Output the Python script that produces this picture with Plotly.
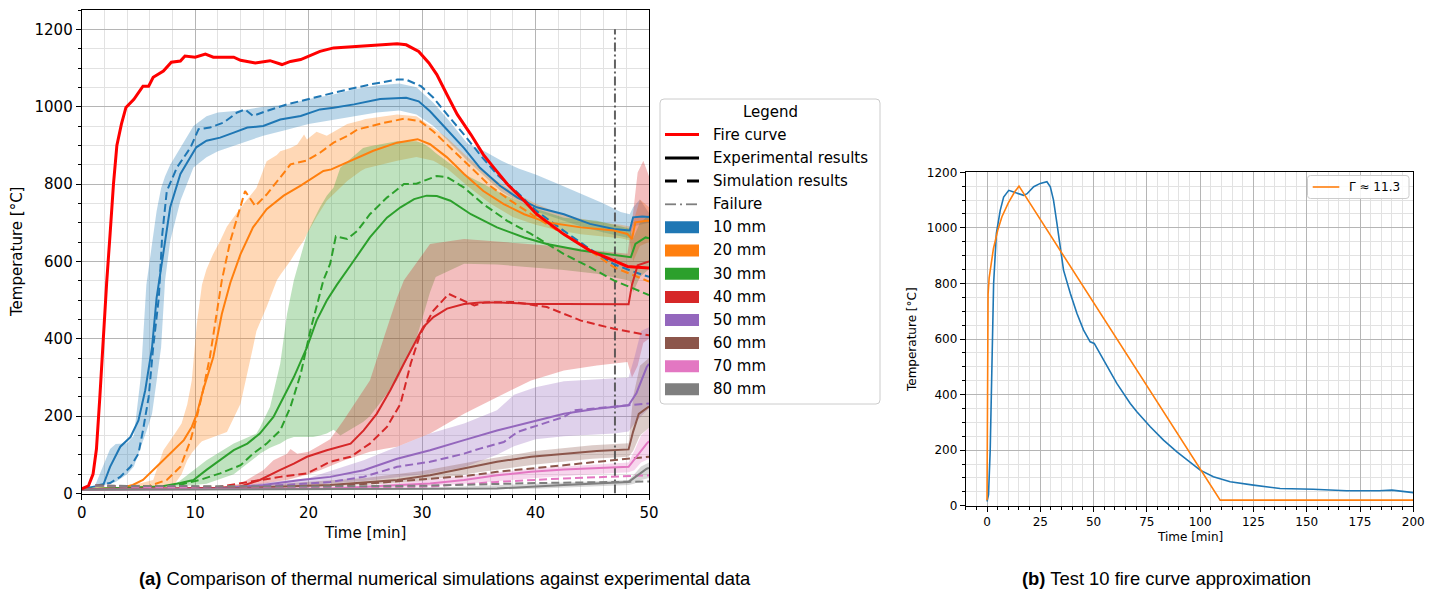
import plotly.graph_objects as go

W, H = 1439, 589

# ---------------- Panel (a): thermal simulations vs experiments ----------------
fire_t = [0, 0.6, 1.0, 1.3, 1.6, 1.8, 2.0, 2.2, 2.5, 2.8, 3.1, 3.5, 3.9, 4.6, 5.4, 5.9, 6.3, 7.2, 7.9,
          8.7, 9.1, 10, 10.9, 11.6, 13.4, 14, 15.3, 16.6, 17.65, 18.4, 19.3, 20, 21, 22.2, 23.4, 24.8,
          26.5, 27.8, 28.6, 29.7, 30.6, 31.3, 32.2, 33.1, 34.3, 35.4, 36.3, 37.5, 39, 40.1, 42.5, 44.8,
          46.9, 48.1, 49.0, 50]
fire_T = [12, 20, 50, 115, 250, 350, 460, 545, 670, 800, 900, 955, 998, 1019, 1053, 1053, 1076, 1092, 1115,
          1118, 1131, 1128, 1136, 1128, 1128, 1120, 1113, 1119, 1109, 1117, 1122, 1131, 1143, 1152, 1154, 1158,
          1160, 1163, 1160, 1143, 1113, 1083, 1031, 980, 928, 876, 843, 800, 757, 722, 670, 628,
          602, 587, 585, 583]

failure_time = 47.0

# 10 mm
exp10_t = [0, 1.2, 1.9, 2.5, 3.4, 4.3, 5.0, 5.6, 6.2, 6.6, 7.2, 7.8, 8.7, 9.6, 10.1, 11, 12.2, 13.4, 14.6, 16,
           17.5, 19.3, 21, 22.2, 24, 26.3, 28.6, 29.7, 30.7, 31.9, 33.7, 35.1, 36.9, 38.4, 40.1, 42.5, 44.8,
           46.9, 48.3, 48.6, 49.4, 50]
exp10_T = [12, 18, 22, 69, 121, 146, 189, 267, 378, 505, 628, 740, 826, 869, 895, 912, 920, 933, 946, 950,
           967, 976, 993, 997, 1006, 1020, 1023, 1014, 988, 950, 893, 842, 795, 765, 740, 722, 697,
           684, 680, 714, 716, 715]
sim10_t = [1.2, 2.5, 3.4, 4.3, 5.0, 5.4, 5.9, 6.3, 6.8, 7.1, 7.5, 8.4, 9.6, 10.3, 11.3, 12.5, 13.7, 14.4, 15.1,
           16.3, 18.1, 19.3, 21, 22.2, 24, 25.5, 27.8, 28.6, 29.9, 31, 32.2, 33.7, 35.1, 36.6, 38.4, 40.1,
           42.5, 44.8, 46.9, 48.4, 50]
sim10_T = [20, 27, 43, 69, 103, 163, 249, 378, 507, 670, 782, 843, 895, 942, 946, 959, 985, 993, 976,
           989, 1006, 1014, 1027, 1036, 1049, 1058, 1070, 1070, 1053, 1023, 980, 928, 876, 825, 778, 730,
           679, 632, 593, 576, 560]
band10_t = [1.2, 2.5, 3.0, 4.0, 4.6, 5.2, 5.7, 6.2, 6.6, 7.0, 7.35, 7.8, 8.7, 9.85, 11, 12, 14, 16, 18, 20, 22,
            24, 26, 28, 29.5, 31, 32.5, 34, 35.5, 37, 38.5, 40, 42, 44, 46, 47.5, 48.3, 48.6, 49.2, 50]
band10_hi = [22, 115, 128, 130, 150, 300, 540, 650, 730, 790, 820, 850, 895, 950, 975, 985, 990, 1000, 1005,
             1020, 1030, 1045, 1055, 1060, 1050, 1010, 960, 905, 885, 860, 840, 825, 800, 775, 750, 728,
             722, 740, 760, 725]
band10_lo = [18, 25, 30, 50, 70, 120, 160, 206, 290, 378, 551, 653, 757, 843, 869, 885, 905, 925, 940,
             955, 965, 975, 985, 990, 980, 950, 905, 860, 820, 780, 755, 730, 710, 690, 675, 665,
             660, 690, 695, 700]

# 20 mm
exp20_t = [0, 3.5, 4.5, 5.4, 6.6, 7.8, 9.0, 9.7, 10.15, 10.7, 11.6, 12.35, 13.1, 14.0, 15.1, 16.3, 17.8, 19.3,
           20.4, 21.3, 22, 23.7, 25.7, 27.8, 29.6, 30.7, 32.2, 33.7, 35.4, 37.2, 39, 41, 44, 46.9, 48.1,
           48.5, 48.8, 49.8, 50]
exp20_T = [11, 15, 22, 35, 69, 103, 138, 172, 206, 267, 353, 464, 545, 619, 688, 735, 770, 796,
           817, 834, 838, 860, 886, 907, 916, 903, 869, 826, 782, 748, 722, 701, 688, 680, 671,
           658, 701, 705, 705]
sim20_t = [1.2, 3.0, 6.0, 7.5, 8.7, 9.6, 10.15, 10.7, 11.3, 11.9, 12.35, 13.1, 14.0, 14.4, 15.3, 16.3, 17.5,
           18.4, 19.85, 21, 22.2, 23.4, 24.3, 26.6, 28.4, 29.85, 31, 32.5, 34.3, 36, 37.8, 40.1, 42.5,
           44.8, 46.9, 48.4, 50]
sim20_T = [20, 18, 20, 35, 69, 138, 198, 267, 353, 464, 551, 653, 739, 782, 743, 773, 817,
           851, 861, 881, 907, 924, 941, 958, 969, 962, 936, 893, 842, 795, 757, 713, 670,
           628, 585, 568, 548]
band20_t = [3.5, 5, 6.3, 7.2, 8.1, 8.8, 9.3, 9.7, 10.15, 10.4, 10.6, 11, 11.6, 12.2, 12.8, 14, 15.1, 15.4,
            16.3, 17.2, 17.5, 18.4, 19, 19.6, 19.85, 20.7, 21.6, 23.4, 24.6, 25, 27.8, 29.5, 31, 32.2,
            34, 36, 38, 40, 42, 44, 46, 47.5, 48.3, 48.6, 49.2, 50]
band20_hi = [16, 25, 35, 112, 150, 181, 230, 292, 440, 500, 540, 580, 620, 653, 690, 739, 780, 790,
             859, 875, 885, 893, 902, 928, 915, 935, 925, 955, 964, 968, 980, 975, 945, 920,
             870, 820, 780, 750, 725, 710, 700, 695, 690, 700, 760, 740]
band20_lo = [14, 16, 17, 18, 20, 50, 86, 105, 120, 129, 135, 140, 146, 152, 159, 232, 378, 420,
             482, 551, 565, 602, 630, 655, 671, 715, 757, 808, 834, 840, 860, 870, 860, 840,
             795, 750, 715, 695, 680, 670, 665, 660, 655, 600, 640, 650]

# 30 mm
exp30_t = [0, 7, 8.7, 9.85, 11, 12.2, 13.4, 14.6, 15.7, 16.9, 17.8, 18.7, 19.85, 20.7, 21.6, 22.5, 23.7, 25.4,
           26.9, 28.1, 29.3, 30.4, 31.3, 32.5, 34.3, 36.6, 39, 41, 44, 46.9, 48.4, 48.8, 49.7, 50]
exp30_T = [11, 18, 27, 35, 61, 86, 112, 129, 155, 198, 249, 301, 378, 447, 499, 540, 590, 662,
           713, 740, 761, 770, 769, 757, 722, 688, 662, 645, 628, 618, 611, 645, 662, 660]
sim30_t = [1.2, 8, 10.4, 12.2, 14, 15.1, 16.3, 17.5, 18.4, 19.3, 20.15, 20.9, 21.3, 21.9, 22.4, 23.4, 24.3,
           25.4, 26.9, 28.4, 29.5, 31.3, 32.2, 33.7, 35.4, 37.5, 39.6, 42.5, 44.8, 46.9, 48.4, 50]
sim30_T = [20, 18, 35, 52, 73, 103, 129, 163, 224, 309, 421, 507, 551, 594, 665, 658, 679,
           722, 765, 800, 801, 821, 818, 791, 748, 705, 671, 619, 585, 551, 533, 513]
band30_t = [8, 11, 13.4, 15.4, 15.7, 16.6, 17.5, 18.1, 18.7, 19.85, 20.4, 21, 21.6, 22.2, 22.8, 24.8, 25.4,
            27.8, 29.5, 30.1, 30.7, 31.2, 33.7, 36.6, 39.6, 42.5, 45.4, 47.5, 48.3, 48.6, 49.2, 50]
band30_hi = [18, 86, 129, 155, 170, 224, 336, 465, 551, 671, 705, 740, 770, 791, 843, 893, 898,
             911, 911, 905, 893, 880, 826, 782, 740, 713, 705, 690, 685, 660, 700, 720]
band30_lo = [16, 25, 50, 95, 103, 118, 129, 140, 146, 146, 146, 150, 155, 165, 150, 185, 200,
             292, 400, 460, 520, 560, 594, 592, 585, 578, 568, 555, 550, 520, 560, 580]

# 40 mm
exp40_t = [0, 12, 14, 15.7, 17.5, 18.7, 19.85, 21.6, 23.7, 24.85, 26, 27.2, 28.4, 29.3, 30.1, 31, 32.2, 33.7,
           35.1, 36.9, 39.6, 42.5, 45.4, 48.2, 48.5, 49, 50]
exp40_T = [11, 15, 18, 35, 61, 77, 95, 112, 129, 163, 206, 267, 336, 387, 430, 456, 478, 490,
           494, 494, 490, 490, 489, 489, 540, 590, 600]
sim40_t = [1.2, 12, 17.5, 19.85, 21.9, 23.7, 25.4, 26.9, 28.1, 29, 29.85, 31, 32.35, 33.7, 34.6, 35.5, 38.1,
           41, 44, 46.9, 50]
sim40_T = [20, 17, 43, 52, 82, 95, 129, 172, 232, 336, 413, 473, 516, 499, 486, 494, 495,
           482, 447, 426, 409]
band40_t = [12, 14, 16, 16.9, 18.1, 18.4, 19, 20, 21, 21.9, 23.1, 25.4, 26.6, 27.8, 28.4, 30.7, 33.7, 36.6,
            39.6, 42.5, 45.4, 48.1, 48.5, 49, 49.5, 50]
band40_hi = [15, 25, 60, 86, 103, 115, 103, 108, 125, 140, 190, 292, 400, 507, 551, 645, 658, 652,
             645, 638, 628, 620, 700, 830, 860, 820]
band40_lo = [14, 18, 25, 30, 35, 37, 42, 50, 60, 70, 85, 108, 115, 121, 128, 155, 206, 249,
             292, 318, 331, 340, 300, 330, 390, 400]

# 50 mm
exp50_t = [0, 12, 16, 19.3, 21.9, 24.85, 27.8, 30.7, 33.7, 36.6, 39.6, 42.5, 45.4, 48.2, 48.9, 49.8, 50]
exp50_T = [11, 13, 22, 35, 43, 60, 90, 112, 138, 163, 185, 206, 219, 228, 260, 327, 335]
sim50_t = [1.2, 12, 18, 21.9, 24.85, 27.8, 30.7, 33.7, 35.1, 37.2, 38.4, 41, 42.5, 43.4, 46.9, 50]
sim50_T = [20, 14, 22, 30, 43, 69, 82, 103, 116, 133, 159, 185, 198, 215, 224, 233]
band50_t = [12, 20, 24.85, 27.8, 30.7, 33.7, 36.6, 38.1, 40, 42.5, 46.9, 48.2, 48.7, 49.3, 50]
band50_hi = [14, 40, 86, 121, 155, 181, 215, 255, 275, 290, 297, 300, 350, 420, 430]
band50_lo = [12, 22, 32, 42, 52, 68, 100, 122, 140, 148, 155, 160, 180, 200, 220]

# 60 mm
exp60_t = [0, 12, 21.9, 27.8, 30.7, 33.7, 36.6, 39.6, 42.5, 45.4, 48.2, 48.6, 49.1, 50]
exp60_T = [11, 12, 22, 35, 47, 64, 82, 95, 103, 110, 114, 160, 206, 225]
sim60_t = [1.2, 12, 21.9, 30.7, 33.7, 36.6, 39.6, 42.5, 45.4, 50]
sim60_T = [20, 13, 18, 39, 45, 56, 64, 73, 82, 95]
band60_t = [12, 20, 25, 30, 35, 40, 45, 48.2, 48.6, 49.2, 50]
band60_hi = [14, 30, 40, 58, 85, 110, 125, 130, 250, 330, 350]
band60_lo = [11, 16, 22, 32, 55, 75, 90, 95, 110, 150, 170]

# 70 mm
exp70_t = [0, 12, 21.9, 30.7, 33.7, 36.6, 39.6, 42.5, 45.4, 48.2, 49.8, 50]
exp70_T = [10, 11, 13, 26, 35, 47, 56, 62, 65, 69, 129, 135]
sim70_t = [1.2, 12, 30.7, 36.6, 42.5, 50]
sim70_T = [20, 12, 18, 30, 39, 47]
band70_t = [12, 25, 30, 35, 40, 45, 48.2, 48.7, 49.3, 50]
band70_hi = [12, 20, 33, 50, 65, 75, 80, 110, 150, 170]
band70_lo = [10, 12, 18, 28, 40, 50, 55, 60, 80, 90]

# 80 mm
exp80_t = [0, 30, 36.6, 42.5, 48.2, 49.8, 50]
exp80_T = [10, 11, 13, 22, 30, 64, 66]
sim80_t = [1.2, 20, 30, 40, 50]
sim80_T = [20, 18, 20, 27, 31]
band80_t = [0, 30, 40, 48.2, 48.7, 49.3, 50]
band80_hi = [12, 14, 25, 35, 50, 70, 80]
band80_lo = [8, 9, 12, 22, 25, 35, 40]

depth_labels = ["10 mm", "20 mm", "30 mm", "40 mm", "50 mm", "60 mm", "70 mm", "80 mm"]
depth_colors = ["#1f77b4", "#ff7f0e", "#2ca02c", "#d62728", "#9467bd", "#8c564b", "#e377c2", "#7f7f7f"]

series = [
    (exp10_t, exp10_T, sim10_t, sim10_T, band10_t, band10_hi, band10_lo),
    (exp20_t, exp20_T, sim20_t, sim20_T, band20_t, band20_hi, band20_lo),
    (exp30_t, exp30_T, sim30_t, sim30_T, band30_t, band30_hi, band30_lo),
    (exp40_t, exp40_T, sim40_t, sim40_T, band40_t, band40_hi, band40_lo),
    (exp50_t, exp50_T, sim50_t, sim50_T, band50_t, band50_hi, band50_lo),
    (exp60_t, exp60_T, sim60_t, sim60_T, band60_t, band60_hi, band60_lo),
    (exp70_t, exp70_T, sim70_t, sim70_T, band70_t, band70_hi, band70_lo),
    (exp80_t, exp80_T, sim80_t, sim80_T, band80_t, band80_hi, band80_lo),
]

# ---------------- Panel (b): fire curve approximation ----------------
test10_t = [0, 0.7, 1.5, 2.3, 3.1, 4.4, 6.2, 7.8, 10.2, 12.5, 14.8, 17.2, 18.8, 21.9, 25, 28.1, 29.7, 31.2,
            32.8, 34.4, 35.9, 39.1, 42.2, 45.3, 48.4, 50.3, 54.7, 60.9, 67.2, 70.3, 76.6, 82.8, 89.1,
            95.3, 100, 106.2, 114.1, 125, 137.5, 153, 168.7, 184, 190, 200]
test10_T = [15, 40, 200, 560, 800, 980, 1063, 1111, 1135, 1129, 1123, 1117, 1123, 1148, 1160, 1166, 1148, 1100,
            1016, 920, 848, 764, 692, 632, 590, 584, 524, 440, 368, 338, 284, 236, 194,
            155, 128, 104, 86, 74, 62, 59, 54, 54, 56, 47]
approx_t = [0, 0.2, 0.5, 1, 2, 3, 5, 7, 10, 13, 15, 109.4, 200]
approx_T = [20, 600, 760, 820, 880, 925, 990, 1040, 1090, 1130, 1150, 20, 20]
gamma_label = "Γ ≈ 11.3"


def rgba(hex_color, a):
    h = hex_color.lstrip("#")
    r, g, b = int(h[0:2], 16), int(h[2:4], 16), int(h[4:6], 16)
    return f"rgba({r},{g},{b},{a})"


fig = go.Figure()

# scatter bands (min/max of the experimental thermocouples)
for (et, eT, st, sT, bt, bhi, blo), col in zip(series, depth_colors):
    fig.add_trace(go.Scatter(
        x=list(bt) + list(bt)[::-1], y=list(bhi) + list(blo)[::-1],
        fill="toself", fillcolor=rgba(col, 0.3), line=dict(width=0),
        mode="lines", hoverinfo="skip", xaxis="x", yaxis="y"))

# failure time
fig.add_trace(go.Scatter(
    x=[failure_time, failure_time], y=[0, 1200], mode="lines",
    line=dict(color="rgba(70,70,70,0.85)", width=2, dash="9px,3px,2px,3px"),
    xaxis="x", yaxis="y"))

# experimental (solid) and simulated (dashed) temperatures
for (et, eT, st, sT, bt, bhi, blo), col in zip(series, depth_colors):
    fig.add_trace(go.Scatter(x=st, y=sT, mode="lines",
                             line=dict(color=col, width=2, dash="8px,4px"),
                             xaxis="x", yaxis="y"))
    fig.add_trace(go.Scatter(x=et, y=eT, mode="lines",
                             line=dict(color=col, width=2),
                             xaxis="x", yaxis="y"))

# fire curve
fig.add_trace(go.Scatter(x=fire_t, y=fire_T, mode="lines",
                         line=dict(color="#ff0000", width=3), xaxis="x", yaxis="y"))

# panel (b)
fig.add_trace(go.Scatter(x=test10_t, y=test10_T, mode="lines",
                         line=dict(color="#1f77b4", width=1.6), xaxis="x2", yaxis="y2"))
fig.add_trace(go.Scatter(x=approx_t, y=approx_T, mode="lines",
                         line=dict(color="#ff7f0e", width=1.6), xaxis="x2", yaxis="y2"))


def px(x):
    return x / W


def py(y):
    return 1 - y / H


grid_major = "#b5b5b5"
grid_minor = "#e2e2e2"
font_main = "DejaVu Sans"


def axis(domain, rng, dtick, minor_dtick, size, anchor):
    return dict(
        domain=domain, range=rng, dtick=dtick, tick0=0, anchor=anchor, automargin=False,
        showline=True, linecolor="black", linewidth=1, mirror=True,
        ticks="outside", ticklen=5, tickwidth=1, tickcolor="black",
        showgrid=True, gridcolor=grid_major, gridwidth=1.2, zeroline=False,
        tickfont=dict(family=font_main, size=size, color="black"),
        minor=dict(dtick=minor_dtick, tick0=0, ticks="outside", ticklen=3, tickcolor="black",
                   showgrid=True, gridcolor=grid_minor, gridwidth=1),
    )


layout = dict(
    width=W, height=H, margin=dict(l=0, r=0, t=0, b=0, pad=0, autoexpand=False),
    paper_bgcolor="white", plot_bgcolor="white", showlegend=False,
    xaxis=axis([px(81.7), px(649)], [0, 50], 10, 2, 15, "y"),
    yaxis=axis([py(493.5), py(10)], [0, 1250], 200, 50, 15, "x"),
    xaxis2=axis([px(965.7), px(1413.3)], [-10, 200], 25, 5, 12, "y2"),
    yaxis2=axis([py(505.7), py(172.3)], [0, 1200], 200, 50, 12, "x2"),
)
layout["yaxis"]["tickvals"] = [0, 200, 400, 600, 800, 1000, 1200]
fig.update_layout(**layout)

ann = []
shapes = []


def label(x, y, text, size, angle=0, anchor="center", family=font_main):
    ann.append(dict(xref="paper", yref="paper", x=px(x), y=py(y), text=text, showarrow=False,
                    xanchor=anchor, yanchor="middle", textangle=angle,
                    font=dict(family=family, size=size, color="black")))


# axis titles
label(365.3, 533, "Time [min]", 15)
label(17, 252, "Temperature [°C]", 15, angle=-90)
label(1189.5, 537, "Time [min]", 12)
label(912, 339, "Temperature [°C]", 12, angle=-90)

# captions
label(444.5, 578, "<b>(a)</b> Comparison of thermal numerical simulations against experimental data", 18.4,
      family="Liberation Sans")
label(1166, 578, "<b>(b)</b> Test 10 fire curve approximation", 18.4, family="Liberation Sans")


def rounded_box(x0, y0, x1, y1, r=4):
    X0, X1 = px(x0), px(x1)
    Y0, Y1 = py(y0), py(y1)
    rx, ry = r / W, r / H
    return (f"M{X0+rx},{Y0} L{X1-rx},{Y0} Q{X1},{Y0} {X1},{Y0-ry} L{X1},{Y1+ry} Q{X1},{Y1} {X1-rx},{Y1} "
            f"L{X0+rx},{Y1} Q{X0},{Y1} {X0},{Y1+ry} L{X0},{Y0-ry} Q{X0},{Y0} {X0+rx},{Y0} Z")


# legend of panel (a)
shapes.append(dict(type="path", xref="paper", yref="paper", path=rounded_box(660, 99, 880, 404),
                   fillcolor="rgba(255,255,255,0.85)", line=dict(color="#cccccc", width=1)))
label(770, 112.5, "Legend", 15)
row_y = [134.5, 158, 181, 204.3, 227.3, 250.5, 273.7, 297, 320, 343, 366.3, 389.3]
line_entries = [
    ("Fire curve", "#ff0000", 3, "solid"),
    ("Experimental results", "black", 3, "solid"),
    ("Simulation results", "black", 3, "dash"),
    ("Failure", "#7f7f7f", 1.8, "dashdot"),
]
for (text, col, lw, dash), yy in zip(line_entries, row_y[:4]):
    if dash == "solid":
        segs = [(665, 699)]
    elif dash == "dash":
        segs = [(665, 677), (687, 699)]
    else:
        segs = [(665, 676), (680, 682), (686, 697)]
    for a, b in segs:
        shapes.append(dict(type="line", xref="paper", yref="paper", x0=px(a), x1=px(b),
                           y0=py(yy), y1=py(yy), line=dict(color=col, width=lw)))
    label(711, yy, text, 15, anchor="left")
for text, col, yy in zip(depth_labels, depth_colors, row_y[4:]):
    shapes.append(dict(type="rect", xref="paper", yref="paper", x0=px(665), x1=px(699),
                       y0=py(yy + 6), y1=py(yy - 6), fillcolor=col, line=dict(width=0)))
    label(711, yy, text, 15, anchor="left")

# legend of panel (b)
shapes.append(dict(type="path", xref="paper", yref="paper", path=rounded_box(1307.5, 175.5, 1409, 198.5, 3),
                   fillcolor="rgba(255,255,255,0.85)", line=dict(color="#cccccc", width=1)))
shapes.append(dict(type="line", xref="paper", yref="paper", x0=px(1312.7), x1=px(1339.3),
                   y0=py(187), y1=py(187), line=dict(color="#ff7f0e", width=1.6)))
label(1346.5, 187, gamma_label, 12, anchor="left")

fig.update_layout(annotations=ann, shapes=shapes)
fig.write_html("out.html")
